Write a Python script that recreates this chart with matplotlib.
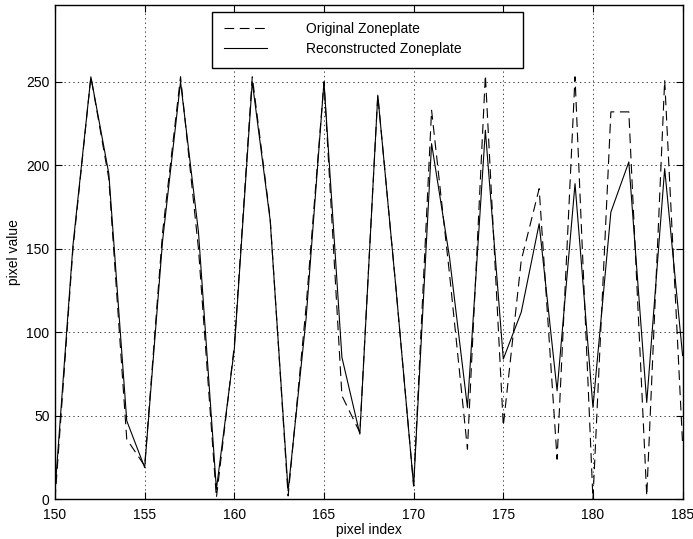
import matplotlib
matplotlib.use("Agg")
import matplotlib.pyplot as plt
from matplotlib.patches import Rectangle

plt.rcParams["font.family"] = ["Liberation Sans", "DejaVu Sans"]
plt.rcParams["font.size"] = 10
plt.rcParams["lines.scale_dashes"] = False

# pixel indices along the zoneplate row
pixel_index = list(range(150, 186))

original = [0, 150, 253, 192, 36, 20, 160, 253, 150, 1,
            92, 253, 168, 2, 115, 250, 62, 40, 242, 128,
            8, 233, 135, 30, 254, 44, 143, 186, 24, 253,
            0, 232, 232, 2, 251, 33]

reconstructed = [5, 152, 253, 195, 47, 19, 155, 250, 160, 6,
                 90, 250, 167, 5, 108, 250, 85, 39, 242, 128,
                 8, 213, 145, 55, 221, 84, 112, 165, 65, 189,
                 55, 172, 202, 58, 198, 86]

x_ticks = [150, 155, 160, 165, 170, 175, 180, 185]
y_ticks = [0, 50, 100, 150, 200, 250]

fig = plt.figure(figsize=(6.93, 5.39), dpi=100)
ax = fig.add_axes([0.0794, 0.0737, 0.9056, 0.917])

ax.plot(pixel_index, original, color="k", linewidth=0.8, dashes=(7, 4),
        label="Original Zoneplate")
ax.plot(pixel_index, reconstructed, color="k", linewidth=0.8,
        label="Reconstructed Zoneplate")

ax.set_xlim(150, 185)
ax.set_ylim(0, 296)
ax.set_xticks(x_ticks)
ax.set_yticks(y_ticks)
ax.grid(True, color="k", linestyle=(0, (1, 2.2)), linewidth=0.5)
ax.tick_params(direction="in", top=True, right=True, length=5, width=0.8,
               labelsize=10)
ax.tick_params(axis="x", pad=6)
ax.tick_params(axis="y", pad=4)
for spine in ax.spines.values():
    spine.set_linewidth(1.0)

ax.set_xlabel("pixel index", fontsize=10, labelpad=1)
ax.set_ylabel("pixel value", fontsize=10, labelpad=4)

# legend box drawn separately so it can be wider than its entries
ax.add_patch(Rectangle((0.25, 0.8725), 0.495, 0.1135, transform=ax.transAxes,
                       facecolor="white", edgecolor="k", linewidth=1.0,
                       zorder=4))
leg = ax.legend(loc="upper left", bbox_to_anchor=(224 / 693, 1 - 22 / 539),
                bbox_transform=fig.transFigure, frameon=False, borderpad=0,
                borderaxespad=0, handlelength=3.1, handletextpad=2.8,
                labelspacing=0.45, fontsize=10)
leg.set_zorder(5)

fig.savefig("out.png", dpi=100)
